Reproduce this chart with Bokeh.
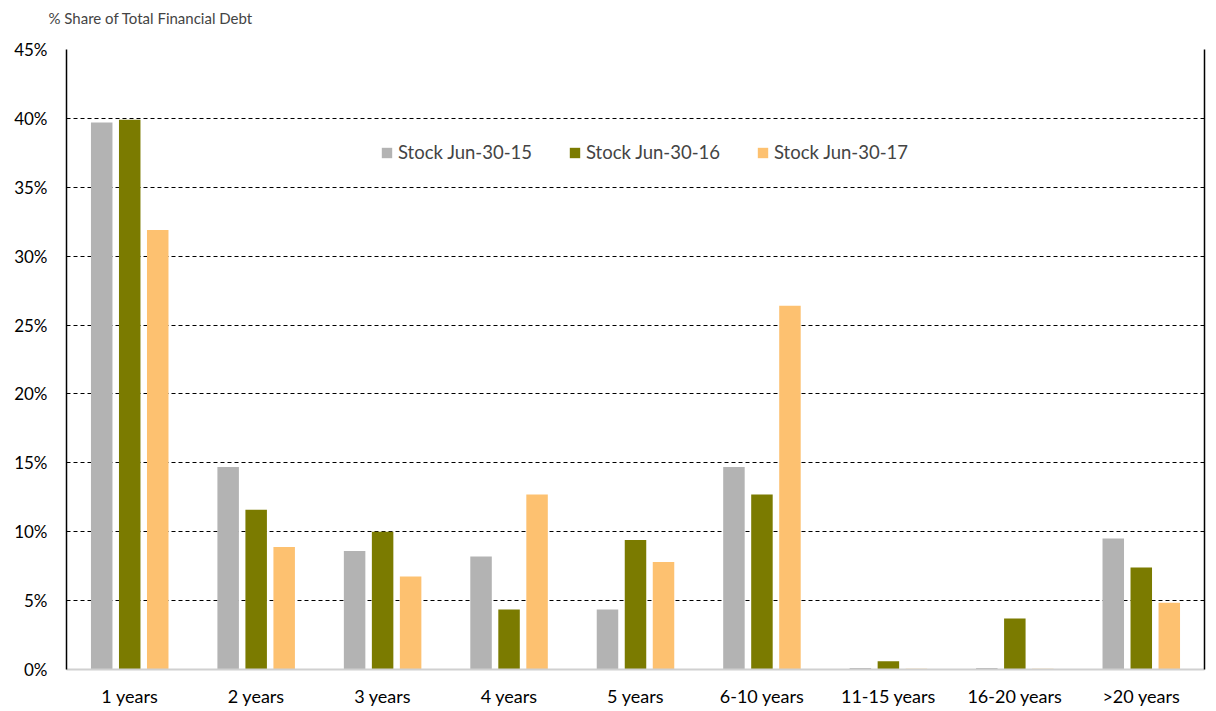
from bokeh.plotting import figure
from bokeh.models import ColumnDataSource, FactorRange, Range1d, PrintfTickFormatter, LinearAxis, Legend, LegendItem, Title, FixedTicker
from bokeh.transform import dodge
from bokeh.embed import file_html
from bokeh.resources import INLINE

categories = ["1 years", "2 years", "3 years", "4 years", "5 years", "6-10 years", "11-15 years", "16-20 years", ">20 years"]
stock_15 = [39.7, 14.7, 8.6, 8.2, 4.35, 14.7, 0.1, 0.1, 9.5]
stock_16 = [39.9, 11.6, 10.0, 4.35, 9.4, 12.7, 0.6, 3.7, 7.4]
stock_17 = [31.9, 8.9, 6.75, 12.7, 7.8, 26.4, 0.05, 0.05, 4.85]
series_names = ["Stock Jun-30-15", "Stock Jun-30-16", "Stock Jun-30-17"]
colors = ["#B3B3B3", "#7B7B00", "#FDC170"]
y_ticks = [0, 5, 10, 15, 20, 25, 30, 35, 40, 45]
y_max = 45

src = ColumnDataSource(dict(cat=categories, s15=stock_15, s16=stock_16, s17=stock_17))

FONT = "Lato"

p = figure(width=1216, height=711, x_range=FactorRange(*categories, range_padding=0),
           y_range=Range1d(0, y_max), output_backend="svg", toolbar_location=None,
           min_border_left=66, min_border_right=12, min_border_top=49, min_border_bottom=42)
p.outline_line_color = None
p.background_fill_color = "white"

renderers = []
for col, off, c in zip(["s15", "s16", "s17"], [-0.2215, 0.0, 0.2215], colors):
    r = p.vbar(x=dodge("cat", off, range=p.x_range), top=col, width=0.17, source=src,
               fill_color=c, line_color=None)
    renderers.append(r)

# axes
p.yaxis.ticker = FixedTicker(ticks=y_ticks)
p.yaxis.formatter = PrintfTickFormatter(format="%d%%")
p.yaxis.major_tick_line_color = None
p.yaxis.minor_tick_line_color = None
p.yaxis.major_tick_out = 0
p.yaxis.major_label_standoff = 19
p.yaxis.axis_line_color = "black"
p.yaxis.axis_line_width = 1.5
p.yaxis.major_label_text_font = FONT
p.yaxis.major_label_text_font_size = "17px"
p.yaxis.major_label_text_color = "black"

p.xaxis.major_tick_line_color = None
p.xaxis.major_tick_out = 0
p.xaxis.axis_line_color = "#D0D0D0"
p.xaxis.axis_line_width = 2
p.xaxis.major_label_text_font = FONT
p.xaxis.major_label_text_font_size = "18px"
p.xaxis.major_label_text_color = "black"
p.xaxis.major_label_standoff = 15

p.xgrid.grid_line_color = None
p.ygrid.grid_line_color = "black"
p.ygrid.grid_line_dash = "4 3"
p.ygrid.grid_line_width = 1

right_axis = LinearAxis(major_tick_line_color=None, minor_tick_line_color=None,
                        major_label_text_font_size="0px", axis_line_color="black", axis_line_width=1.5)
right_axis.ticker = FixedTicker(ticks=[])
p.add_layout(right_axis, "right")

legend = Legend(items=[LegendItem(label=n, renderers=[r]) for n, r in zip(series_names, renderers)],
                orientation="horizontal", location=(314, 506), border_line_color=None,
                background_fill_alpha=0, label_text_font=FONT, label_text_font_size="18.5px",
                glyph_width=13, glyph_height=13, label_standoff=5, spacing=36)
p.add_layout(legend, "center")

title = Title(text="%  Share of Total Financial Debt\n ", text_font=FONT, text_font_size="15px",
              text_font_style="normal", align="left", offset=-18, standoff=10)
p.add_layout(title, "above")

open("out.html", "w").write(file_html(p, INLINE))
